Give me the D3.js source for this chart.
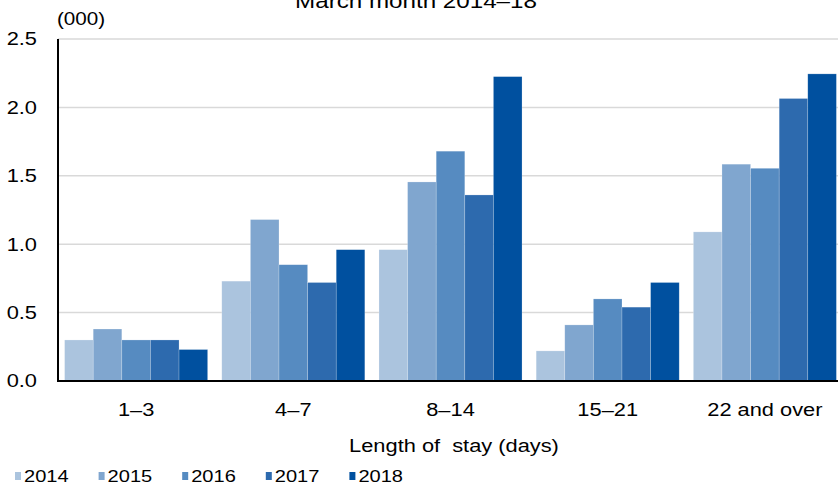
<!DOCTYPE html>
<html>
<head>
<meta charset="utf-8">
<script src="https://cdn.jsdelivr.net/npm/d3@7"></script>
<style>
  html, body { margin: 0; padding: 0; background: #fff; }
  svg { display: block; font-family: "Liberation Sans", Arial, sans-serif; }
</style>
</head>
<body>
<svg id="chart" width="838" height="486"></svg>
<script>
// Length-of-stay categories and yearly values (thousands)
const categories = ["1–3", "4–7", "8–14", "15–21", "22 and over"];
const years = ["2014", "2015", "2016", "2017", "2018"];
const v2014 = [0.30, 0.73, 0.96, 0.22, 1.09];
const v2015 = [0.38, 1.18, 1.455, 0.41, 1.585];
const v2016 = [0.30, 0.85, 1.68, 0.60, 1.555];
const v2017 = [0.30, 0.72, 1.36, 0.54, 2.065];
const v2018 = [0.23, 0.96, 2.225, 0.72, 2.245];
const yTicks = [0, 0.5, 1.0, 1.5, 2.0, 2.5];
const colors = ["#abc4de", "#80a6cf", "#568bc1", "#2d6aae", "#00509f"];

const series = [v2014, v2015, v2016, v2017, v2018];
const svg = d3.select("#chart");

const plotLeft = 58, plotRight = 843, plotTop = 39, plotBottom = 381;
const WIDEN = 1.18; // horizontal widening of the lettering

// Widen a text element in place around its anchor point
function widen(sel) {
  sel.each(function () {
    const t = d3.select(this);
    const tx = +t.attr("x") || 0, ty = +t.attr("y") || 0;
    t.attr("x", 0).attr("y", 0)
      .attr("transform", `translate(${tx},${ty}) scale(${WIDEN},1)`);
  });
}

const x0 = d3.scaleBand().domain(categories).range([plotLeft, plotRight])
  .paddingInner(0.09).paddingOuter(0.042);
const x1 = d3.scaleBand().domain(years).range([0, x0.bandwidth()]);
const y = d3.scaleLinear().domain([0, 2.5]).range([plotBottom, plotTop]);

// Horizontal grid lines
svg.append("g").selectAll("line").data(yTicks.filter(t => t > 0)).join("line")
  .attr("x1", plotLeft).attr("x2", 838)
  .attr("y1", d => y(d)).attr("y2", d => y(d))
  .attr("stroke", "#d9d9d9").attr("stroke-width", 1.5);

// Bars
const rows = categories.map((c, i) => ({ cat: c, vals: years.map((yr, j) => ({ yr, j, v: series[j][i] })) }));
svg.append("g").selectAll("g").data(rows).join("g")
  .attr("transform", d => `translate(${x0(d.cat)},0)`)
  .selectAll("rect").data(d => d.vals).join("rect")
  .attr("x", d => x1(d.yr))
  .attr("width", x1.bandwidth())
  .attr("y", d => y(d.v))
  .attr("height", d => y(0) - y(d.v))
  .attr("fill", d => colors[d.j])
  .attr("stroke", "rgba(255,255,255,0.35)")
  .attr("stroke-width", 0.6);

// Y axis
const yAxis = svg.append("g")
  .attr("transform", `translate(${plotLeft},0)`)
  .call(d3.axisLeft(y).tickValues(yTicks).tickFormat(d3.format(".1f")).tickSize(0).tickPadding(21));
yAxis.select(".domain").attr("stroke", "#000").attr("stroke-width", 2)
  .attr("d", `M0,${plotTop}V${plotBottom}`);
yAxis.selectAll("text").attr("font-size", 18.5).attr("fill", "#000")
  .attr("font-family", "Liberation Sans, Arial, sans-serif").call(widen);

// X axis
const xAxis = svg.append("g")
  .attr("transform", `translate(0,${plotBottom})`)
  .call(d3.axisBottom(x0).tickSize(0).tickPadding(22));
xAxis.select(".domain").attr("stroke", "#000").attr("stroke-width", 2)
  .attr("d", `M${plotLeft - 1},0H838`);
xAxis.selectAll("text").attr("font-size", 18.5).attr("fill", "#000")
  .attr("font-family", "Liberation Sans, Arial, sans-serif").call(widen);

// Title, unit and axis label
svg.append("text").attr("x", 416).attr("y", 8).attr("text-anchor", "middle")
  .attr("font-size", 20.5).text("March month 2014–18").call(widen);
svg.append("text").attr("x", 57).attr("y", 25).attr("font-size", 17.5).text("(000)").call(widen);
svg.append("text").attr("x", 454).attr("y", 452).attr("text-anchor", "middle")
  .attr("font-size", 18.5).style("white-space", "pre")
  .text("Length of  stay (days)").call(widen);

// Legend
const leg = svg.append("g").selectAll("g").data(years).join("g")
  .attr("transform", (d, i) => `translate(${15 + i * 83.6},0)`);
leg.append("rect").attr("x", 0).attr("y", 472).attr("width", 6).attr("height", 8)
  .attr("fill", (d, i) => colors[i]);
leg.append("text").attr("x", 9).attr("y", 482).attr("font-size", 17).text(d => d).call(widen);
</script>
</body>
</html>
